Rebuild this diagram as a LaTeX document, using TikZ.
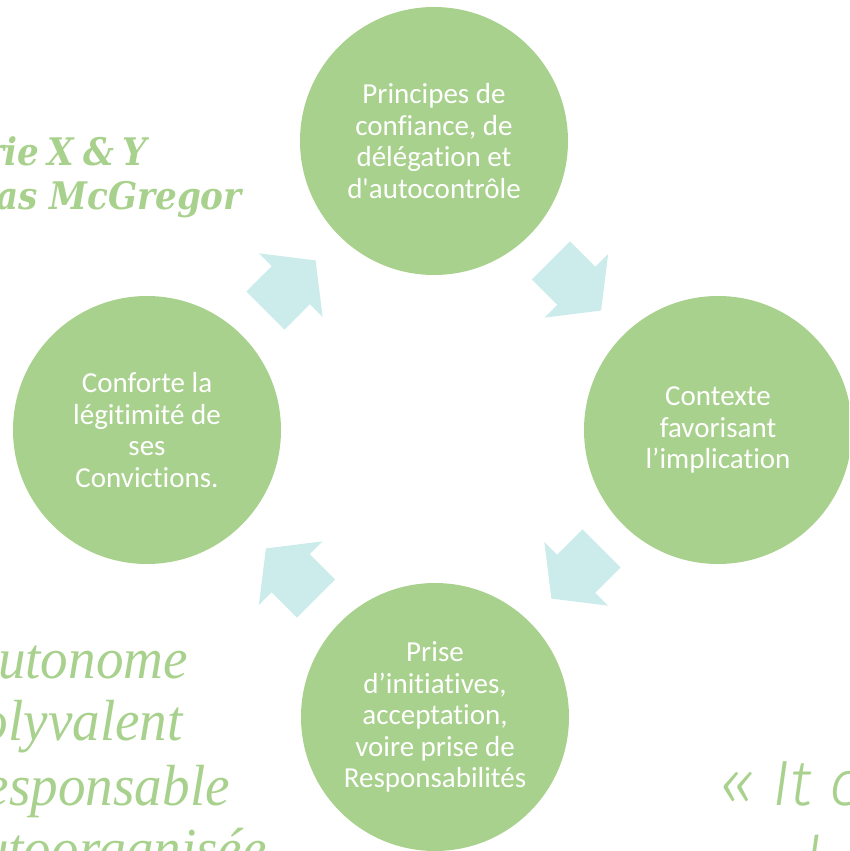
\documentclass[tikz,border=0pt]{standalone}
\usepackage{fontspec}
\setmainfont{Carlito}[Ligatures={TeXOff,NoCommon}]
\newfontfamily\slabfont{DejaVu Serif}[FakeStretch=0.9]
\newfontfamily\italfont{Liberation Serif}[FakeStretch=0.95]
\newfontface\quotefont{Fira Sans Light Italic}
\usepackage{tikz}
\usetikzlibrary{calc}
\usepackage{xcolor}
\definecolor{CycleGreen}{HTML}{A9D18E}
\definecolor{CycleCyan}{HTML}{CCECEC}

\begin{document}
\begin{tikzpicture}[x=1pt,y=-1pt,
    stage/.style={circle,fill=CycleGreen,minimum size=268pt,inner sep=0pt,
        text=white,align=center,font={\fontsize{29}{31.5}\selectfont}},
    flow/.style={fill=CycleCyan},
    side/.style={text=CycleGreen,inner sep=0pt}]
    \useasboundingbox (0,0) rectangle (849,851);
    \clip (0,0) rectangle (849,851);
    \node[stage] (top) at (434,141) {Principes de\\confiance, de\\délégation et\\d'autocontrôle};
    \node[stage] (rgt) at (718,430) {Contexte\\favorisant\\l’implication};
    \node[stage] (bot) at (435,717) {Prise\\d’initiatives,\\acceptation,\\voire prise de\\Responsabilités};
    \node[stage] (lft) at (147,430) {Conforte la\\légitimité de\\ses\\Convictions.};
    \foreach \from/\to/\angle in {lft/top/45,top/rgt/-45,rgt/bot/-135,bot/lft/135} {
        \fill[flow,shift={($(\from)!0.5!(\to)$)},rotate=\angle]
            (-35.5,-27) -- (0.5,-27) -- (0.5,-45) -- (35.5,0) -- (0.5,45) -- (0.5,27) -- (-35.5,27) -- cycle;
    }
    \node[side,font={\slabfont\bfseries\itshape\fontsize{38}{45}\selectfont\spaceskip=8.5pt},anchor=base east] (theory) at (147,165) {rie X \& Y};
    \node[side,font={\slabfont\bfseries\itshape\fontsize{38}{45}\selectfont},anchor=base east] (author) at (242,209) {as McGregor};
    \foreach \word/\x/\y [count=\i] in {utonome/188/678,olyvalent/183/740,esponsable/230/805,utoorganisée/267/868} {
        \node[side,font={\italfont\itshape\fontsize{58}{63}\selectfont},anchor=base east] (trait\i) at (\x,\y) {\word};
    }
    \node[side,font={\quotefont\fontsize{64}{77}\selectfont},anchor=base west] (quote) at (719,805) {« It c};
    \node[side,font={\quotefont\fontsize{64}{77}\selectfont},anchor=base west] (quotenext) at (804,882) {l};
\end{tikzpicture}
\end{document}
